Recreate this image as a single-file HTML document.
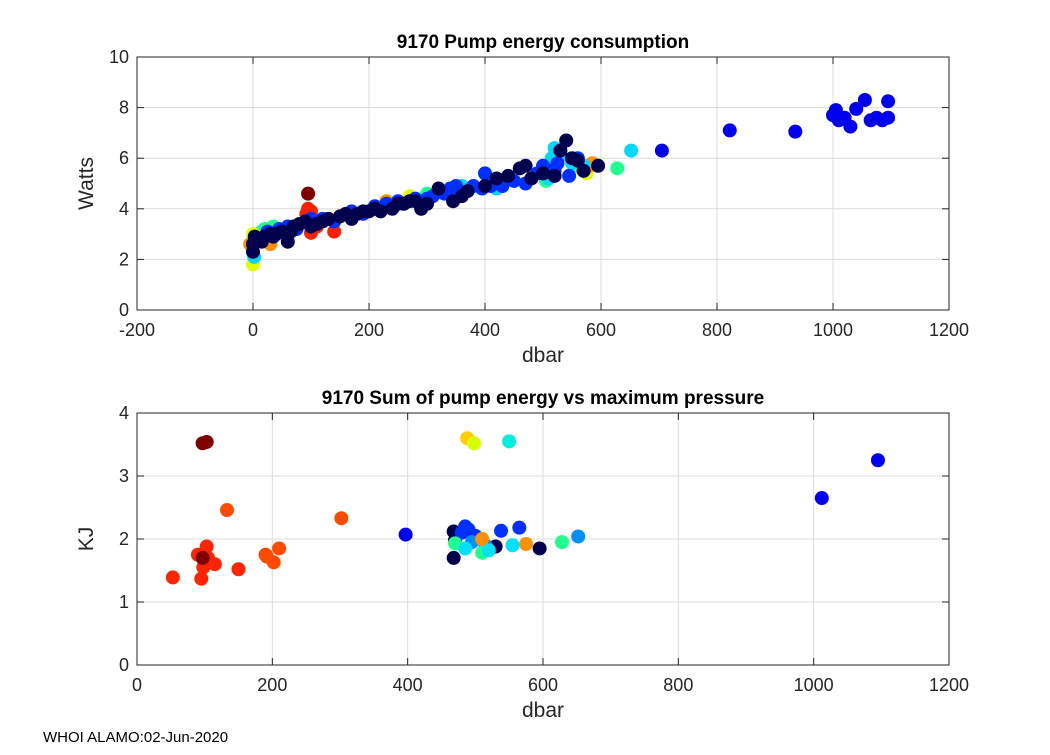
<!DOCTYPE html>
<html><head><meta charset="utf-8"><style>
body{margin:0;background:#fff;font-family:"Liberation Sans",sans-serif}
svg text{font-family:"Liberation Sans",sans-serif}
</style></head><body>
<svg id="s" width="1050" height="750"></svg>
<script>
// top chart data: pump power (Watts) vs pressure (dbar), grouped by color
const topColors = ["#20ff90","#e0ff00","#ff9000","#00d8ff","#ff2000","#800000","#0030ff","#0000ee","#00004d"];
const topX = [
 [35,300,505,560,628,15,20,520],
 [0,0,575,270,5],
 [-5,30,580,585,230,25],
 [2,350,360,420,510,520,525,550,570,652,515,530],
 [95,100,100,140,110,92],
 [95],
 [5,25,45,75,100,140,190,230,250,280,310,340,350,380,400,410,430,450,490,500,510,525,545,520,560,60,120,170,210,300,330,395,470],
 [705,822,935,1000,1005,1010,1020,1030,1040,1055,1065,1075,1085,1095,1095],
 [0,0,3,10,20,30,40,50,60,70,80,90,110,120,130,150,160,170,180,200,210,220,240,260,270,290,300,320,345,360,370,400,420,440,460,470,520,530,540,550,560,570,595,480,500,15,35,65,100,190,250,280]
];
const topY = [
 [3.3,4.6,5.1,5.7,5.6,3.1,3.2,6.1],
 [1.8,3.0,5.4,4.5,2.9],
 [2.6,2.6,5.7,5.8,4.3,2.8],
 [2.1,4.6,4.9,4.8,5.2,6.4,6.2,5.8,5.7,6.3,6.0,6.1],
 [4.0,3.9,3.05,3.1,3.3,3.8],
 [4.6],
 [2.7,3.1,3.2,3.2,3.6,3.5,3.8,4.2,4.3,4.4,4.5,4.8,4.9,4.9,5.4,4.9,4.9,5.1,5.4,5.7,5.5,5.8,5.3,5.5,6.0,3.3,3.6,3.9,4.1,4.4,4.6,4.8,5.0],
 [6.3,7.1,7.05,7.7,7.9,7.5,7.6,7.25,7.95,8.3,7.5,7.6,7.5,8.25,7.6],
 [2.3,2.6,2.9,2.8,2.9,3.0,3.0,3.1,2.7,3.3,3.4,3.5,3.4,3.5,3.6,3.7,3.8,3.6,3.8,3.9,4.0,3.9,4.0,4.2,4.3,4.0,4.2,4.8,4.3,4.5,4.7,4.9,5.2,5.3,5.6,5.7,5.3,6.3,6.7,6.0,5.9,5.5,5.7,5.2,5.4,2.7,2.9,3.1,3.3,3.9,4.2,4.3]
];
const topXTicks = [-200,0,200,400,600,800,1000,1200];
const topYTicks = [0,2,4,6,8,10];
// bottom chart data: KJ vs max pressure
const botColors = ["#ff2400","#ff4a00","#800000","#ffcc00","#d8ff00","#00f0e0","#0000ff","#00004d","#0030ff","#0090ff","#20ff90","#ff9000","#00e0ff"];
const botX = [
 [53,95,90,98,100,103,105,115,150],
 [133,190,192,202,210,302],
 [97,103,97],
 [488],[498],[550],
 [397,1012,1095],
 [468,470,468,530,595],
 [485,490,538,565,500,480],
 [652,495,515],
 [628,510,470],
 [575,510],
 [485,520,555]
];
const botY = [
 [1.39,1.37,1.75,1.55,1.62,1.88,1.7,1.6,1.52],
 [2.46,1.75,1.72,1.63,1.85,2.33],
 [3.52,3.54,1.7],
 [3.6],[3.52],[3.55],
 [2.07,2.65,3.25],
 [2.12,1.98,1.7,1.88,1.85],
 [2.2,2.15,2.13,2.18,2.05,2.1],
 [2.04,1.95,1.9],
 [1.95,1.78,1.93],
 [1.92,2.0],
 [1.85,1.82,1.9]
];
const botXTicks = [0,200,400,600,800,1000,1200];
const botYTicks = [0,1,2,3,4];

const S=document.getElementById('s'),NS="http://www.w3.org/2000/svg";
function mk(t,a,p){const e=document.createElementNS(NS,t);for(const k in a)e.setAttribute(k,a[k]);(p||S).appendChild(e);return e;}
function txt(x,y,s,o){const e=mk('text',Object.assign({x:x,y:y,'font-size':18,fill:'#262626','text-anchor':'middle'},o||{}));e.textContent=s;return e;}

function panel(name,L,T,R,B,xmin,xmax,ymin,ymax,xt,yt,title,ylab,xs,ys,cols){
 const g=mk('g',{});
 
 
 const sx=v=>L+(v-xmin)/(xmax-xmin)*(R-L), sy=v=>B-(v-ymin)/(ymax-ymin)*(B-T);
 mk('rect',{x:L,y:T,width:R-L,height:B-T,fill:'#fff'},g);
 xt.forEach(v=>{mk('line',{x1:sx(v),x2:sx(v),y1:T,y2:B,stroke:'#dcdcdc','stroke-width':1},g);
  const t=txt(sx(v),B+26,String(v));});
 yt.forEach(v=>{mk('line',{x1:L,x2:R,y1:sy(v),y2:sy(v),stroke:'#dcdcdc','stroke-width':1},g);
  const t=txt(L-8,sy(v)+6,String(v),{'text-anchor':'end'});});
 const cl=mk('clipPath',{id:'c'+name},g);mk('rect',{x:L,y:T,width:R-L,height:B-T},cl);
 const pg=mk('g',{'clip-path':'url(#c'+name+')'},g);
 xs.forEach((arr,i)=>arr.forEach((v,j)=>{const c=mk('circle',{cx:sx(v),cy:sy(ys[i][j]),r:7,fill:cols[i]},pg);
  
  }));
 mk('rect',{x:L,y:T,width:R-L,height:B-T,fill:'none',stroke:'#262626','stroke-width':1},g);
 xt.forEach(v=>{mk('line',{x1:sx(v),x2:sx(v),y1:B,y2:B-7,stroke:'#262626'},g);mk('line',{x1:sx(v),x2:sx(v),y1:T,y2:T+7,stroke:'#262626'},g);});
 yt.forEach(v=>{mk('line',{x1:L,x2:L+7,y1:sy(v),y2:sy(v),stroke:'#262626'},g);mk('line',{x1:R,x2:R-7,y1:sy(v),y2:sy(v),stroke:'#262626'},g);});
 const tt=txt((L+R)/2,T-9,title,{'font-weight':'bold','font-size':19,fill:'#000'});
 
 const xl=txt((L+R)/2,B+52,'dbar',{'font-size':21});
 
 const yl=txt(0,0,ylab,{'font-size':21,transform:'translate('+(L-44)+','+((T+B)/2)+') rotate(-90)'});
 
}
panel('pump-energy-panel',137,57,949,310,-200,1200,0,10,topXTicks,topYTicks,'9170 Pump energy consumption','Watts',topX,topY,topColors);
panel('sum-energy-panel',137,413,949,665,0,1200,0,4,botXTicks,botYTicks,'9170 Sum of pump energy vs maximum pressure','KJ',botX,botY,botColors);
const f=txt(43,742,'WHOI ALAMO:02-Jun-2020',{'text-anchor':'start','font-size':15,fill:'#000'});


</script>
</body></html>
